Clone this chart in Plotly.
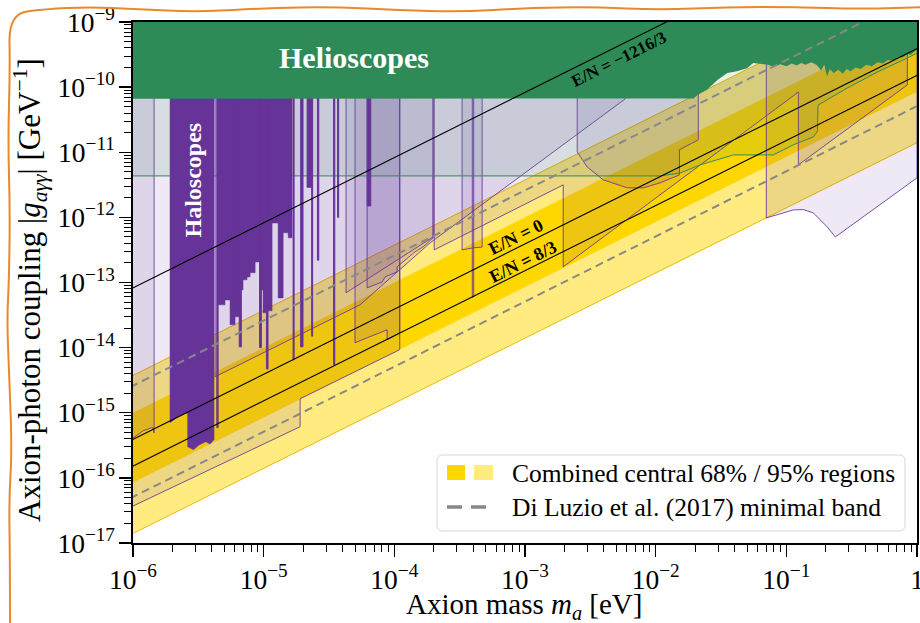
import numpy as np
import plotly.graph_objects as go

W, H = 920, 623
ML, MR, MT, MB = 133, 3, 22, 80
FONT = "Liberation Serif"
TOP = 2e-9          # hidden top of regions (under the helioscope band)

# ---------------- data ----------------
m_span = [1e-7, 10.0]
band95_coef = [1.4e-11, 3.75e-9]      # g = coef * m_a  (lower, upper)
band68_coef = [8.5e-11, 1.0e-9]
diluzio_coef = [5.1e-11, 2.6e-9]
en_names = ["E/N = \u22121216/3", "E/N = 0", "E/N = 8/3"]
en_coef = [8.27e-8, 3.9e-10, 1.52e-10]
en_label_m = [5.18e-3, 8.49e-4, 9.6e-4]
en_label_g = [2.7e-10, 4.93e-13, 2.04e-13]
en_label_size = [17, 18, 18]

# helioscope (CAST-like) exclusion lower edge
helio_m = [1e-7, 0.0195, 0.0209, 0.0247, 0.0297, 0.0353, 0.0419, 0.0500, 0.0558, 0.0725,
           0.080, 0.090, 0.100, 0.110, 0.120, 0.130, 0.140, 0.155, 0.170, 0.185, 0.195,
           0.205, 0.215, 0.230, 0.250, 0.270, 0.290, 0.310, 0.340, 0.370, 0.410, 0.450,
           0.500, 0.550, 0.600, 0.660, 0.720, 0.780, 0.840, 0.900, 0.950, 1.0, 10.0]
helio_g = [6.6e-11, 6.7e-11, 7.6e-11, 9.1e-11, 1.29e-10, 1.65e-10, 1.75e-10, 1.95e-10, 2.35e-10, 2.2e-10,
           2.05e-10, 2.25e-10, 2.1e-10, 2.3e-10, 2.15e-10, 2.35e-10, 2.2e-10, 2.4e-10, 2.2e-10, 1.8e-10, 2.2e-10,
           1.45e-10, 1.9e-10, 1.65e-10, 1.85e-10, 1.6e-10, 1.9e-10, 1.75e-10, 2.0e-10, 1.9e-10, 2.2e-10, 2.1e-10,
           2.4e-10, 2.3e-10, 2.6e-10, 2.55e-10, 2.9e-10, 2.85e-10, 3.2e-10, 3.15e-10, 3.5e-10, 3.7e-10, 3.7e-9]

# projected helioscope reach (translucent green)
sg_m = [1e-7, 0.0108, 0.0154, 0.0219, 0.0393, 0.0794, 0.113, 0.161, 0.173, 0.175, 0.293, 0.498, 0.843, 1.2]
sg_g = [4.33e-12, 4.33e-12, 4.8e-12, 6.4e-12, 9.1e-12, 9.1e-12, 1.3e-11, 1.72e-11, 2.1e-11, 5.3e-11,
        9.7e-11, 1.71e-10, 2.8e-10, 4.0e-10]

# existing haloscope limits (solid)
halo1_m = [1.92e-6, 2.2e-6, 2.5e-6, 2.62e-6, 2.62e-6, 2.9e-6, 3.2e-6, 3.6e-6, 3.9e-6, 4.17e-6]
halo1_g = [7.0e-16, 8.7e-16, 9.8e-16, 9.8e-16, 3.0e-16, 2.7e-16, 3.2e-16, 3.6e-16, 3.3e-16, 3.9e-16]
halo2_edges = [4.48e-6, 5.06e-6, 5.53e-6, 6.04e-6, 6.6e-6, 6.95e-6, 7.46e-6, 7.87e-6, 8.6e-6,
               9.38e-6, 9.89e-6, 1.06e-5, 1.16e-5, 1.29e-5, 1.41e-5, 1.54e-5, 1.65e-5]
halo2_floor = [4.55e-14, 5.4e-14, 2.24e-14, 2.97e-14, 7.7e-14, 1.1e-13, 1.22e-13, 1.41e-13,
               2.07e-13, 7.7e-14, 3.43e-14, 3.67e-14, 8.2e-13, 5.8e-14, 5.8e-13, 4.85e-13]
spike_lo = [4.38e-6, 6.5e-6, 9.3e-6, 1.05e-5, 1.68e-5, 1.92e-5, 2.15e-5, 2.33e-5, 2.58e-5, 3.43e-5, 3.68e-5, 6.2e-5]
spike_hi = [4.48e-6, 6.75e-6, 9.6e-6, 1.08e-5, 1.71e-5, 2.0e-5, 2.33e-5, 2.37e-5, 2.64e-5, 3.5e-5, 3.75e-5, 6.6e-5]
spike_floor = [5.9e-16, 1.03e-14, 1.0e-14, 4.7e-15, 6.5e-15, 1.03e-14, 2.9e-12, 1.5e-14, 2.2e-13, 5.5e-15, 1.0e-12, 1.5e-12]

# projected haloscope reaches (translucent purple)
p1_m = [1e-6, 1.9e-5, 1.9e-5, 1.1e-4, 1.1e-4, 1e-6]
p1_g = [3.7e-17, 6.1e-16, 1.64e-15, 9.3e-15, TOP, TOP]
p2_m = [1e-6, 1.2e-6, 1.39e-6, 1.42e-6, 1.45e-6, 1.45e-6, 1e-6]
p2_g = [4.1e-16, 5.3e-16, 5.9e-16, 5.9e-16, 4.9e-16, TOP, TOP]
p3_m = [4.25e-6, 4.25e-6, 5.47e-5, 1.88e-4, 5.85e-3, 5.85e-3]
p3_g = [TOP, 3.57e-15, 4.55e-14, 4.07e-13, 6.6e-11, TOP]
p4_m = [6.19e-5, 6.19e-5, 8.07e-5, 8.51e-5, 1.05e-4, 1.05e-4, 1.44e-4, 1.66e-4, 1.98e-4, 1.98e-4]
p4_g = [TOP, 8.28e-14, 1.02e-13, 1.22e-13, 1.46e-13, 1.74e-13, 2.96e-13, 3.53e-13, 4.85e-13, TOP]
p5_m = [2.02e-4, 2.02e-4, 1.96e-3, 1.96e-3, 0.1236, 0.1236, 0.843, 0.843]
p5_g = [TOP, 3.17e-13, 3.15e-12, 1.74e-13, 8.4e-11, 6.4e-12, 1.08e-10, TOP]
p5_top_m = [0.07, 0.07, 0.0176, 0.0176]
p5_top_g = [TOP, 2.6e-10, 6.6e-11, TOP]
p6_m = [3.3e-4, 3.3e-4, 4.0e-4, 4.7e-4, 4.7e-4]
p6_g = [TOP, 3.17e-13, 3.4e-13, 3.5e-13, TOP]
p7_m = [3.95e-4, 3.95e-4, 4.05e-4, 4.05e-4]
p7_g = [TOP, 6.0e-14, 6.0e-14, TOP]
p8_m = [2.51e-3, 2.51e-3, 2.99e-3, 3.97e-3, 6.07e-3, 8.04e-3, 1.08e-2, 1.52e-2, 1.52e-2, 2.12e-2, 2.12e-2]
p8_g = [TOP, 1.01e-11, 5.96e-12, 3.77e-12, 2.84e-12, 2.84e-12, 3.39e-12, 4.49e-12, 1.09e-11, 1.55e-11, TOP]
p9_m = [0.0703, 0.0703, 0.113, 0.135, 0.161, 0.206, 0.237, 1.0, 1.0]
p9_g = [TOP, 9.8e-13, 1.3e-12, 1.32e-12, 1.17e-12, 7.1e-13, 5.0e-13, 4.04e-12, TOP]
p10_m = [5.0e-5, 5.0e-5, 8.8e-5, 8.8e-5, 1.1e-4, 1.1e-4]
p10_g = [TOP, 1.19e-14, 1.88e-14, 1.32e-14, 1.69e-14, TOP]
p11_m = [4.27e-5, 4.27e-5, 1.98e-4, 1.98e-4]
p11_g = [TOP, 6.95e-14, 5.0e-13, TOP]

# text positions
helio_label = (4.92e-5, 2.9e-10)
halo_label = (2.86e-6, 3.77e-12)

# ---------------- colours ----------------
GOLD = "#FFD700"
GOLD_LIGHT = "#FFEB7F"
PURPLE = "#663399"
PURPLE_FILL = "rgba(102,51,153,0.11)"
PURPLE_EDGE = "rgba(102,51,153,0.85)"
GREEN = "#2E8B57"

fig = go.Figure()


def band(coefs, color):
    lo, hi = coefs
    xs = [m_span[0], m_span[1], m_span[1], m_span[0]]
    ys = [lo * m_span[0], lo * m_span[1], hi * m_span[1], hi * m_span[0]]
    fig.add_trace(go.Scatter(x=xs, y=ys, fill="toself", fillcolor=color, mode="lines",
                             line=dict(width=0), hoverinfo="skip", showlegend=False))


def coef_line(c, color, width, dash=None):
    fig.add_trace(go.Scatter(x=m_span, y=[c * m for m in m_span], mode="lines",
                             line=dict(color=color, width=width, dash=dash),
                             hoverinfo="skip", showlegend=False))


band(band95_coef, GOLD_LIGHT)
band(band68_coef, GOLD)
for c in band95_coef:
    coef_line(c, "#EDBB00", 1)

# translucent projections
for mm, gg in [(p1_m, p1_g), (p2_m, p2_g), (p3_m, p3_g), (p4_m, p4_g), (p6_m, p6_g),
               (p7_m, p7_g), (p8_m, p8_g), (p9_m, p9_g), (p10_m, p10_g), (p11_m, p11_g)]:
    fig.add_trace(go.Scatter(x=mm, y=gg, fill="toself", fillcolor=PURPLE_FILL, mode="lines",
                             line=dict(color=PURPLE_EDGE, width=1), hoverinfo="skip", showlegend=False))
fig.add_trace(go.Scatter(x=p5_m + p5_top_m, y=p5_g + p5_top_g, fill="toself", fillcolor=PURPLE_FILL,
                         mode="lines", line=dict(width=0), hoverinfo="skip", showlegend=False))
fig.add_trace(go.Scatter(x=p5_m, y=p5_g, mode="lines", line=dict(color=PURPLE_EDGE, width=1),
                         hoverinfo="skip", showlegend=False))

# projected helioscope
fig.add_trace(go.Scatter(x=sg_m + [sg_m[-1], sg_m[0]], y=sg_g + [TOP, TOP], fill="toself",
                         fillcolor="rgba(46,139,87,0.12)", mode="lines",
                         line=dict(color=GREEN, width=1), hoverinfo="skip", showlegend=False))

# existing haloscope limits (solid)
xs = [halo1_m[0]] + halo1_m + [halo1_m[-1]]
ys = [TOP] + halo1_g + [TOP]
fig.add_trace(go.Scatter(x=xs, y=ys, fill="toself", fillcolor=PURPLE, mode="lines",
                         line=dict(color=PURPLE, width=0.5), hoverinfo="skip", showlegend=False))
xs, ys = [halo2_edges[0]], [TOP]
for i, f in enumerate(halo2_floor):
    xs += [halo2_edges[i], halo2_edges[i + 1]]
    ys += [f, f]
xs += [halo2_edges[-1]]
ys += [TOP]
fig.add_trace(go.Scatter(x=xs, y=ys, fill="toself", fillcolor=PURPLE, mode="lines",
                         line=dict(color=PURPLE, width=0.5), hoverinfo="skip", showlegend=False))
xs, ys = [], []
for lo, hi, f in zip(spike_lo, spike_hi, spike_floor):
    xs += [lo, lo, hi, hi, lo, None]
    ys += [TOP, f, f, TOP, TOP, None]
fig.add_trace(go.Scatter(x=xs, y=ys, fill="toself", fillcolor=PURPLE, mode="lines",
                         line=dict(color=PURPLE, width=1), hoverinfo="skip", showlegend=False))

# helioscope exclusion
fig.add_trace(go.Scatter(x=helio_m + [helio_m[-1], helio_m[0]], y=helio_g + [1e-8, 1e-8],
                         fill="toself", fillcolor=GREEN, mode="lines", line=dict(width=0),
                         hoverinfo="skip", showlegend=False))

# benchmark lines
for c in diluzio_coef:
    coef_line(c, "#888888", 2, "8px,5px")
for c in en_coef:
    coef_line(c, "black", 1.1)

# ---------------- annotations ----------------
ann = []
for name, mx, gy, sz in zip(en_names, en_label_m, en_label_g, en_label_size):
    ann.append(dict(x=np.log10(mx), y=np.log10(gy), xref="x", yref="y", text="<b>%s</b>" % name,
                    showarrow=False, textangle=-26.5, xanchor="center", yanchor="middle",
                    font=dict(family=FONT, size=sz, color="black")))
ann.append(dict(x=np.log10(helio_label[0]), y=np.log10(helio_label[1]), xref="x", yref="y",
                text="<b>Helioscopes</b>", showarrow=False, xanchor="center", yanchor="middle",
                font=dict(family=FONT, size=30, color="white")))
ann.append(dict(x=np.log10(halo_label[0]), y=np.log10(halo_label[1]), xref="x", yref="y",
                text="<b>Haloscopes</b>", showarrow=False, textangle=-90, xanchor="center", yanchor="middle",
                font=dict(family=FONT, size=24, color="white")))

PW, PH = W - ML - MR, H - MT - MB


def px(xp, yp):
    return (xp - ML) / PW, (H - MB - yp) / PH


tx, ty = px(524, 606)
ann.append(dict(x=tx, y=ty, xref="paper", yref="paper", showarrow=False, xanchor="center", yanchor="middle",
                text="Axion mass <i>m<sub>a</sub></i> [eV]", font=dict(family=FONT, size=29, color="black")))
tx, ty = px(30, 290)
ann.append(dict(x=tx, y=ty, xref="paper", yref="paper", showarrow=False, textangle=-90,
                xanchor="center", yanchor="middle",
                text="Axion-photon coupling |<i>g</i><sub><i>a\u03b3\u03b3</i></sub>| [GeV<sup>\u22121</sup>]",
                font=dict(family=FONT, size=31, color="black")))

tx, ty = px(510, 473)
ann.append(dict(x=tx, y=ty, xref="paper", yref="paper", showarrow=False, xanchor="left", yanchor="middle",
                text="Combined central 68% / 95% regions", font=dict(family=FONT, size=25.5, color="black")))
tx, ty = px(510, 507)
ann.append(dict(x=tx, y=ty, xref="paper", yref="paper", showarrow=False, xanchor="left", yanchor="middle",
                text="Di Luzio et al. (2017) minimal band", font=dict(family=FONT, size=25.5, color="black")))

# ---------------- shapes: legend box and orange frame ----------------
shapes = []


def rounded_rect(x0p, y0p, x1p, y1p, r):
    a, b = px(x0p, y0p), px(x1p, y1p)
    rx, ry = r / PW, r / PH
    x0, y0 = a
    x1, y1 = b
    return ("M %f,%f L %f,%f Q %f,%f %f,%f L %f,%f Q %f,%f %f,%f L %f,%f Q %f,%f %f,%f L %f,%f Q %f,%f %f,%f Z" % (
        x0 + rx, y0, x1 - rx, y0, x1, y0, x1, y0 - ry, x1, y1 + ry, x1, y1, x1 - rx, y1,
        x0 + rx, y1, x0, y1, x0, y1 + ry, x0, y0 - ry, x0, y0, x0 + rx, y0))


shapes.append(dict(type="path", xref="paper", yref="paper", path=rounded_rect(437, 455, 905, 531, 6),
                   fillcolor="rgba(255,255,255,0.85)", line=dict(color="#D6D6D6", width=1), layer="above"))
a, b = px(447, 465), px(465, 480)
shapes.append(dict(type="rect", xref="paper", yref="paper", x0=a[0], x1=b[0], y0=b[1], y1=a[1],
                   fillcolor=GOLD, line=dict(width=0), layer="above"))
a, b = px(474, 465), px(493, 480)
shapes.append(dict(type="rect", xref="paper", yref="paper", x0=a[0], x1=b[0], y0=b[1], y1=a[1],
                   fillcolor=GOLD_LIGHT, line=dict(width=0), layer="above"))
a, b = px(447, 507), px(489, 507)
shapes.append(dict(type="line", xref="paper", yref="paper", x0=a[0], x1=b[0], y0=a[1], y1=b[1],
                   line=dict(color="#888888", width=3.5, dash="15px,9px"), layer="above"))

frame_pts = [(10, 640), (10, 560), (9, 500), (12, 450), (9, 370), (7, 320), (9, 280), (10, 210),
             (8, 140), (10, 70), (9, 14), (45, 9), (90, 7), (133, 9), (200, 12), (267, 8), (333, 7),
             (400, 10), (460, 12), (527, 8), (593, 7), (660, 10), (727, 7), (793, 7), (860, 9), (930, 7)]
P = [px(*p) for p in frame_pts]
path = "M %f,%f" % P[0]
for i in range(1, len(P) - 1):
    mx_, my_ = (P[i][0] + P[i + 1][0]) / 2, (P[i][1] + P[i + 1][1]) / 2
    path += " Q %f,%f %f,%f" % (P[i][0], P[i][1], mx_, my_)
path += " L %f,%f" % P[-1]
shapes.append(dict(type="path", xref="paper", yref="paper", path=path,
                   line=dict(color="#E8892B", width=2), layer="above"))

axis_common = dict(type="log", showgrid=False, zeroline=False, showline=True, linecolor="black",
                   linewidth=1.6, mirror=True, ticks="outside", ticklen=12, tickwidth=1.4,
                   tickcolor="black", dtick=1, exponentformat="power", showexponent="all",
                   ticklabeloverflow="allow",
                   tickfont=dict(family=FONT, size=22, color="black"), automargin=False,
                   minor=dict(ticks="outside", ticklen=7, tickwidth=1, tickcolor="black",
                              dtick="D1", showgrid=False))

fig.update_layout(width=W, height=H, margin=dict(l=ML, r=MR, t=MT, b=MB),
                  paper_bgcolor="white", plot_bgcolor="white", showlegend=False,
                  annotations=ann, shapes=shapes,
                  xaxis=dict(range=[-6, 0], **axis_common),
                  yaxis=dict(range=[-17, -9], **axis_common))

fig.write_html("out.html", config={"displayModeBar": False, "staticPlot": True},
               post_script="document.body.style.margin='0px';")
